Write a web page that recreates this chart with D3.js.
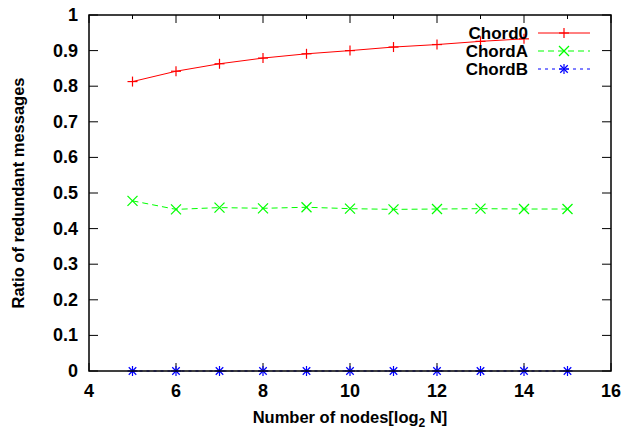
<!DOCTYPE html>
<html>
<head>
<meta charset="utf-8">
<script src="https://cdn.jsdelivr.net/npm/d3@7"></script>
<style>
  body { margin: 0; background: #fff; }
  text { font-family: "Liberation Sans", Arial, sans-serif; font-weight: bold; }
</style>
</head>
<body>
<div id="chart"></div>
<script>
var svgWidth = 625;
var svgHeight = 431;

var margin = { top: 15, right: 14, bottom: 60, left: 89 };
var width = svgWidth - margin.left - margin.right;
var height = svgHeight - margin.top - margin.bottom;

// data
var nodesLog = [5, 6, 7, 8, 9, 10, 11, 12, 13, 14, 15];
var chord0 = [0.813, 0.842, 0.863, 0.879, 0.891, 0.900, 0.910, 0.917, 0.926, 0.933];
var chordA = [0.478, 0.454, 0.459, 0.457, 0.460, 0.456, 0.454, 0.455, 0.456, 0.455, 0.455];
var chordB = [0, 0, 0, 0, 0, 0, 0, 0, 0, 0, 0];
var xTicks = [4, 6, 8, 10, 12, 14, 16];
var xMinor = [5, 7, 9, 11, 13, 15];
var yTicks = [0, 0.1, 0.2, 0.3, 0.4, 0.5, 0.6, 0.7, 0.8, 0.9, 1];

var series = [
  { name: "Chord0", values: chord0, color: "#ff0000", dash: null, marker: "plus" },
  { name: "ChordA", values: chordA, color: "#00ff00", dash: "6,4", marker: "cross" },
  { name: "ChordB", values: chordB, color: "#0000ff", dash: "3,4", marker: "star" }
];

var svg = d3.select("#chart")
  .append("svg")
  .attr("width", svgWidth)
  .attr("height", svgHeight);

var chartGroup = svg.append("g")
  .attr("transform", `translate(${margin.left}, ${margin.top})`);

var xScale = d3.scaleLinear().domain([4, 16]).range([0, width]);
var yScale = d3.scaleLinear().domain([0, 1]).range([height, 0]);

// ticks, inward, mirrored on the opposite side
function drawAxes() {
  var g = chartGroup.append("g").attr("stroke", "#000").attr("stroke-width", 1);
  xTicks.forEach(t => {
    g.append("line").attr("x1", xScale(t)).attr("x2", xScale(t)).attr("y1", height).attr("y2", height - 8);
    g.append("line").attr("x1", xScale(t)).attr("x2", xScale(t)).attr("y1", 0).attr("y2", 8);
  });
  xMinor.forEach(t => {
    g.append("line").attr("x1", xScale(t)).attr("x2", xScale(t)).attr("y1", height).attr("y2", height - 4);
    g.append("line").attr("x1", xScale(t)).attr("x2", xScale(t)).attr("y1", 0).attr("y2", 4);
  });
  yTicks.forEach(t => {
    g.append("line").attr("x1", 0).attr("x2", 9).attr("y1", yScale(t)).attr("y2", yScale(t));
    g.append("line").attr("x1", width).attr("x2", width - 9).attr("y1", yScale(t)).attr("y2", yScale(t));
  });

  chartGroup.selectAll(".xlab").data(xTicks).enter()
    .append("text")
    .attr("x", d => xScale(d))
    .attr("y", height + 26)
    .attr("text-anchor", "middle")
    .attr("font-size", 18)
    .text(d => d);

  chartGroup.selectAll(".ylab").data(yTicks).enter()
    .append("text")
    .attr("x", -11)
    .attr("y", d => yScale(d) + 6)
    .attr("text-anchor", "end")
    .attr("font-size", 18)
    .text(d => d3.format("")(d));
}
drawAxes();

function marker(g, type, x, y, color) {
  var s = 5;
  var p = g.append("g").attr("stroke", color).attr("stroke-width", 1.2);
  if (type === "plus" || type === "star") {
    p.append("line").attr("x1", x - s).attr("x2", x + s).attr("y1", y).attr("y2", y);
    p.append("line").attr("x1", x).attr("x2", x).attr("y1", y - s).attr("y2", y + s);
  }
  if (type === "cross" || type === "star") {
    var c = type === "star" ? s * 0.75 : s;
    p.append("line").attr("x1", x - c).attr("x2", x + c).attr("y1", y - c).attr("y2", y + c);
    p.append("line").attr("x1", x - c).attr("x2", x + c).attr("y1", y + c).attr("y2", y - c);
  }
}

var line = d3.line()
  .x(d => xScale(d[0]))
  .y(d => yScale(d[1]));

series.forEach(s => {
  var pts = s.values.map((v, i) => [nodesLog[i], v]);
  chartGroup.append("path")
    .datum(pts)
    .attr("fill", "none")
    .attr("stroke", s.color)
    .attr("stroke-width", 1)
    .attr("stroke-dasharray", s.dash)
    .attr("d", line);
  pts.forEach(p => marker(chartGroup, s.marker, xScale(p[0]), yScale(p[1]), s.color));
});

// frame
chartGroup.append("rect")
  .attr("width", width)
  .attr("height", height)
  .attr("fill", "none")
  .attr("stroke", "#000")
  .attr("stroke-width", 1.5);

// legend
var legend = chartGroup.append("g");
series.forEach((s, i) => {
  var ly = 18 + i * 18;
  legend.append("text")
    .attr("x", 439)
    .attr("y", ly + 6)
    .attr("text-anchor", "end")
    .attr("font-size", 17)
    .text(s.name);
  legend.append("line")
    .attr("x1", 449).attr("x2", 501)
    .attr("y1", ly).attr("y2", ly)
    .attr("stroke", s.color)
    .attr("stroke-dasharray", s.dash);
  marker(legend, s.marker, 475, ly, s.color);
});

// axis labels
chartGroup.append("text")
  .attr("transform", "rotate(-90)")
  .attr("y", -65)
  .attr("x", -(height / 2))
  .attr("text-anchor", "middle")
  .attr("font-size", 16.5)
  .text("Ratio of redundant messages");

var xt = chartGroup.append("text")
  .attr("x", width / 2)
  .attr("y", height + 52)
  .attr("text-anchor", "middle")
  .attr("font-size", 16.5);
xt.append("tspan").text("Number of nodes[log");
xt.append("tspan").attr("font-size", 12).attr("dy", 4).text("2");
xt.append("tspan").attr("dy", -4).text(" N]");
</script>
</body>
</html>
